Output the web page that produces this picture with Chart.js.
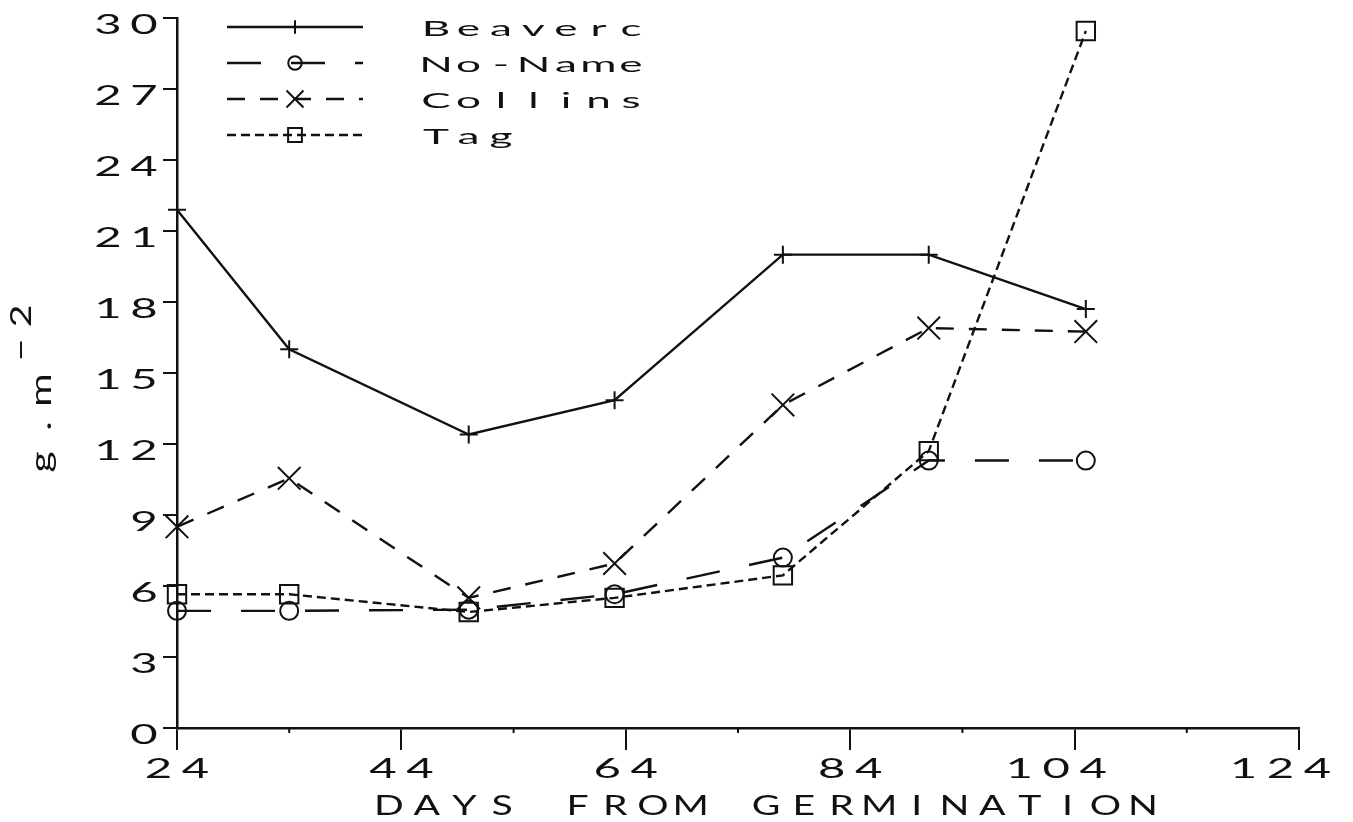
<!DOCTYPE html>
<html>
<head>
<meta charset="utf-8">
<title>Dry matter by days from germination</title>
<script src="https://cdn.jsdelivr.net/npm/chart.js@4.4.1/dist/chart.umd.min.js"></script>
<style>
  html, body { margin: 0; padding: 0; background: #fff; }
  #wrap { position: relative; width: 1353px; height: 822px; }
</style>
</head>
<body>
<div id="wrap"><canvas id="chart"></canvas></div>
<script>
// sampling dates (days from germination) and dry matter per cultivar, g.m-2
const days    = [24, 34, 50, 63, 78, 91, 105];
const beaverc = [21.9, 16.0, 12.4, 13.85, 20.0, 20.0, 17.7];
const noName  = [4.95, 4.95, 5.0, 5.65, 7.2, 11.3, 11.3];
const collins = [8.5, 10.55, 5.5, 6.95, 13.65, 16.9, 16.75];
const tag     = [5.65, 5.65, 4.9, 5.5, 6.45, 11.7, 29.45];

const seriesNames = ['Beaverc', 'No-Name', 'Collins', 'Tag'];
const xTicks      = [24, 44, 64, 84, 104, 124];
const xMinorTicks = [34, 54, 74, 94, 114];
const yTicks      = [0, 3, 6, 9, 12, 15, 18, 21, 24, 27, 30];
const xTitle      = 'DAYS FROM GERMINATION';
const yTitle      = 'g.m';
const yTitleSup   = '\u22122';

const INK = '#111';
const FONT = 'Lato, "DejaVu Sans", sans-serif';

const toPoints = ys => days.map((d, i) => ({ x: d, y: ys[i] }));

// fixed-pitch, horizontally stretched lettering like an old pen plotter
function plotText(ctx, text, cx0, baseY, pitch, size, sx) {
  ctx.save();
  ctx.fillStyle = INK;
  ctx.font = `400 ${size}px ${FONT}`;
  ctx.textAlign = 'center';
  ctx.textBaseline = 'alphabetic';
  [...text].forEach((ch, i) => {
    ctx.save();
    ctx.translate(cx0 + i * pitch, baseY);
    ctx.scale(sx, 1);
    ctx.fillText(ch, 0, 0);
    ctx.restore();
  });
  ctx.restore();
}

// same, but running bottom-to-top
function plotTextUp(ctx, text, baseX, cy0, pitch, size, sx) {
  ctx.save();
  ctx.fillStyle = INK;
  ctx.font = `400 ${size}px ${FONT}`;
  ctx.textAlign = 'center';
  ctx.textBaseline = 'alphabetic';
  [...text].forEach((ch, i) => {
    ctx.save();
    ctx.translate(baseX, cy0 - i * pitch);
    ctx.rotate(-Math.PI / 2);
    ctx.scale(sx, 1);
    ctx.fillText(ch, 0, 0);
    ctx.restore();
  });
  ctx.restore();
}

const plotterText = {
  id: 'plotterText',
  afterDraw(chart) {
    const ctx = chart.ctx;
    const xs = chart.scales.x, ys = chart.scales.y;

    // short minor ticks between the labelled ones
    ctx.save();
    ctx.strokeStyle = INK;
    ctx.lineWidth = 2;
    xMinorTicks.forEach(v => {
      const px = xs.getPixelForValue(v);
      ctx.beginPath();
      ctx.moveTo(px, ys.bottom);
      ctx.lineTo(px, ys.bottom + 5);
      ctx.stroke();
    });
    ctx.restore();

    // tick labels: the last two characters straddle the tick
    xTicks.forEach(v => {
      const s = String(v);
      const px = xs.getPixelForValue(v);
      plotText(ctx, s, px + 18.5 - (s.length - 1) * 37, ys.bottom + 50, 37, 27, 1.75);
    });
    yTicks.forEach(v => {
      const s = String(v);
      const py = ys.getPixelForValue(v);
      plotText(ctx, s, xs.left - 33 - (s.length - 1) * 36, py + 16, 36, 27, 1.75);
    });

    // axis titles
    plotText(ctx, xTitle, 389, ys.bottom + 87, 37.7, 27, 1.45);
    plotTextUp(ctx, yTitle, 51, 462, 36, 29, 1.4);
    plotTextUp(ctx, yTitleSup, 31, 350, 34, 28, 1.4);

    // legend: line sample with marker, then the name
    chart.data.datasets.forEach((ds, i) => {
      const y = ys.top + 9 + i * 36;
      ctx.save();
      ctx.strokeStyle = INK;
      ctx.lineWidth = ds.borderWidth;
      ctx.setLineDash(ds.borderDash);
      ctx.beginPath();
      ctx.moveTo(227, y);
      ctx.lineTo(363, y);
      ctx.stroke();
      ctx.setLineDash([]);
      ctx.lineWidth = 2;
      ctx.fillStyle = 'rgba(0,0,0,0)';
      Chart.helpers.drawPoint(ctx, {
        pointStyle: ds.pointStyle, rotation: 0, radius: ds.pointRadius * 0.75, borderWidth: 2
      }, 295, y);
      ctx.restore();
      plotText(ctx, seriesNames[i], 436, y + 9, 32.5, 21, 2.1);
    });
  }
};

const lineSet = (i, ys, dash, style, radius) => ({
  label: seriesNames[i],
  data: toPoints(ys),
  borderColor: INK,
  borderWidth: 2.4,
  borderDash: dash,
  pointStyle: style,
  pointRadius: radius,
  pointBorderColor: INK,
  pointBackgroundColor: 'rgba(0,0,0,0)',
  pointBorderWidth: 2,
  tension: 0,
  clip: false
});

new Chart(document.getElementById('chart'), {
  type: 'line',
  data: {
    datasets: [
      lineSet(0, beaverc, [], 'cross', 9),
      lineSet(1, noName, [34, 30], 'circle', 9),
      lineSet(2, collins, [18, 15], 'crossRot', 16),
      lineSet(3, tag, [9, 5], 'rect', 13)
    ]
  },
  options: {
    responsive: true,
    maintainAspectRatio: false,
    animation: false,
    events: [],
    layout: { padding: { top: 15, right: 54, left: 0, bottom: 0 } },
    plugins: { legend: { display: false }, tooltip: { enabled: false } },
    scales: {
      x: {
        type: 'linear',
        min: 24,
        max: 124,
        afterFit: s => { s.height = 94; },
        afterBuildTicks: s => { s.ticks = xTicks.map(v => ({ value: v })); },
        ticks: { display: false },
        grid: { drawOnChartArea: false, drawTicks: true, tickLength: 22, color: INK, lineWidth: 2 },
        border: { color: INK, width: 2.5 }
      },
      y: {
        type: 'linear',
        min: 0,
        max: 30,
        afterFit: s => { s.width = 177; },
        afterBuildTicks: s => { s.ticks = yTicks.map(v => ({ value: v })); },
        ticks: { display: false },
        grid: { drawOnChartArea: false, drawTicks: true, tickLength: 14, color: INK, lineWidth: 2 },
        border: { color: INK, width: 2.5 }
      }
    }
  },
  plugins: [plotterText]
});
</script>
</body>
</html>
